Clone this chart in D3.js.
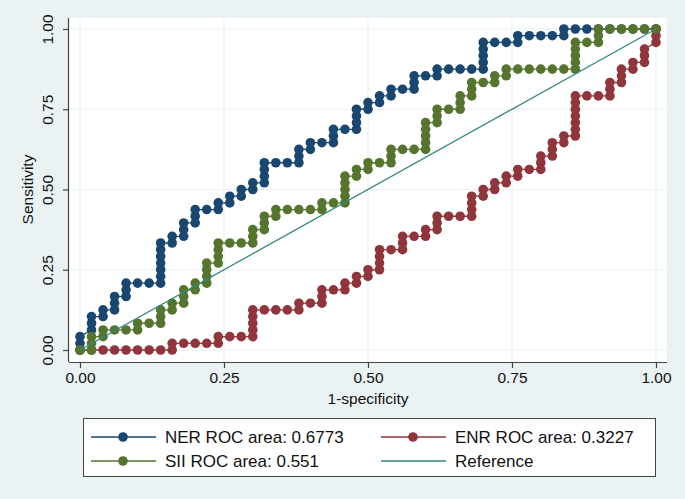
<!DOCTYPE html>
<html><head><meta charset="utf-8">
<script src="https://cdn.jsdelivr.net/npm/d3@7"></script>
<style>html,body{margin:0;padding:0;background:#eaf2f3;} svg{display:block;}</style>
</head><body><svg id="c" width="685" height="499"></svg>
<script>
// ---- data (counts of false positives / true positives at each cut-off) ----
const nNeg = 50, nPos = 48;
const xTickVals = [0, 0.25, 0.5, 0.75, 1];
const yTickVals = [0, 0.25, 0.5, 0.75, 1];
const tickLabels = ["0.00", "0.25", "0.50", "0.75", "1.00"];
const xTitle = "1-specificity";
const yTitle = "Sensitivity";

const nerFp = [0,0,0, 1,1,1, 2,2, 3,3,3, 4,4,4, 5, 6, 7,7,7,7,7,7,7, 8,8, 9,9,9, 10,10,10, 11, 12,12, 13,13, 14,14, 15,15, 16,16,16,16, 17, 18, 19,19,19, 20,20, 21, 22,22,22, 23, 24,24,24,24, 25,25, 26,26, 27,27, 28, 29,29,29, 30, 31,31, 32, 33, 34, 35,35,35,35,35, 36, 37, 38,38, 39, 40, 41, 42,42, 43, 44, 45, 46, 47, 48, 49, 50];
const nerTp = [0,1,2, 3,4,5, 5,6, 6,7,8, 8,9,10, 10, 10, 10,11,12,13,14,15,16, 16,17, 17,18,19, 19,20,21, 21, 21,22, 22,23, 23,24, 24,25, 25,26,27,28, 28, 28, 28,29,30, 30,31, 31, 31,32,33, 33, 33,34,35,36, 36,37, 37,38, 38,39, 39, 39,40,41, 41, 41,42, 42, 42, 42, 42,43,44,45,46, 46, 46, 46,47, 47, 47, 47, 47,48, 48, 48, 48, 48, 48, 48, 48, 48];

const enrFp = [0,1,2,3,4,5,6,7, 8,8, 9,10,11, 12,12, 13,14, 15,15,15,15,15, 16,17,18, 19,19, 20, 21,21,21, 22, 23,23, 24,24, 25,25, 26,26,26,26, 27, 28,28,28, 29, 30,30, 31,31,31, 32,33, 34,34,34,34, 35,35, 36,36, 37,37, 38,38, 39, 40,40,40, 41,41,41, 42,42, 43,43,43,43,43,43,43, 44,45, 46,46,46, 47,47,47, 48,48, 49,49,49, 50,50,50];
const enrTp = [0,0,0,0,0,0,0,0, 0,1, 1,1,1, 1,2, 2,2, 2,3,4,5,6, 6,6,6, 6,7, 7, 7,8,9, 9, 9,10, 10,11, 11,12, 12,13,14,15, 15, 15,16,17, 17, 17,18, 18,19,20, 20,20, 20,21,22,23, 23,24, 24,25, 25,26, 26,27, 27, 27,28,29, 29,30,31, 31,32, 32,33,34,35,36,37,38, 38,38, 38,39,40, 40,41,42, 42,43, 43,44,45, 46,47,48];

const siiFp = [0, 1,1,1, 2,2, 3, 4, 5,5, 6, 7,7,7, 8,8, 9,9,9, 10,10, 11,11,11,11, 12,12,12,12, 13, 14, 15,15,15, 16,16,16, 17,17, 18, 19, 20, 21,21, 22, 23,23,23,23,23, 24,24, 25,25, 26, 27,27,27, 28, 29, 30,30,30,30,30, 31,31,31, 32, 33,33,33, 34,34,34, 35, 36,36, 37,37, 38, 39, 40, 41, 42, 43,43,43,43,43, 44, 45,45,45, 46, 47, 48, 49, 50];
const siiTp = [0, 0,1,2, 2,3, 3, 3, 3,4, 4, 4,5,6, 6,7, 7,8,9, 9,10, 10,11,12,13, 13,14,15,16, 16, 16, 16,17,18, 18,19,20, 20,21, 21, 21, 21, 21,22, 22, 22,23,24,25,26, 26,27, 27,28, 28, 28,29,30, 30, 30, 30,31,32,33,34, 34,35,36, 36, 36,37,38, 38,39,40, 40, 40,41, 41,42, 42, 42, 42, 42, 42, 42,43,44,45,46, 46, 46,47,48, 48, 48, 48, 48, 48];

const refX = [0, 1];
const refY = [0, 1];

const seriesLabels = ["NER ROC area: 0.6773", "ENR ROC area: 0.3227", "SII ROC area: 0.551", "Reference"];
const seriesColors = ["#1a476f", "#90353b", "#55752f", "#33897f"];

// ---- drawing ----
const svg = d3.select("#c");
const W = 685, H = 499;
const FONT = "'Liberation Sans', Arial, Helvetica, sans-serif";
const TICK_FS = 15.5, TITLE_FS = 15.5, LEG_FS = 17;
svg.append("rect").attr("width", W).attr("height", H).attr("fill", "#eaf2f3");

const x = d3.scaleLinear().domain([0, 1]).range([80, 656]);
const y = d3.scaleLinear().domain([0, 1]).range([350, 29]);
const plotL = 69, plotR = 667, plotT = 18, plotB = 362;

svg.append("rect").attr("x", plotL).attr("y", plotT).attr("width", plotR - plotL).attr("height", plotB - plotT).attr("fill", "#ffffff");

// grid
const grid = svg.append("g").attr("stroke", "#eaf2f3").attr("stroke-width", 1.2);
xTickVals.forEach(v => grid.append("line").attr("x1", x(v)).attr("x2", x(v)).attr("y1", plotT).attr("y2", plotB));
yTickVals.forEach(v => grid.append("line").attr("y1", y(v)).attr("y2", y(v)).attr("x1", plotL).attr("x2", plotR));

// axes
const xAxis = d3.axisBottom(x).tickValues(xTickVals).tickFormat((d, i) => tickLabels[i]).tickSize(6).tickPadding(4);
const gx = svg.append("g").attr("transform", `translate(0,${plotB})`).call(xAxis);
gx.select(".domain").remove();
gx.append("line").attr("x1", plotL).attr("x2", plotR).attr("y1", 0.5).attr("y2", 0.5).attr("stroke", "#444").attr("stroke-width", 1.2);
gx.selectAll(".tick line").attr("stroke", "#444").attr("stroke-width", 1.2);
gx.selectAll(".tick text").attr("font-family", FONT).attr("font-size", TICK_FS).attr("fill", "#111");

const yAxis = d3.axisLeft(y).tickValues(yTickVals).tickFormat((d, i) => tickLabels[i]).tickSize(6).tickPadding(5);
const gy = svg.append("g").attr("transform", `translate(${plotL},0)`).call(yAxis);
gy.select(".domain").remove();
gy.append("line").attr("x1", -0.5).attr("x2", -0.5).attr("y1", plotT).attr("y2", plotB).attr("stroke", "#444").attr("stroke-width", 1.2);
gy.selectAll(".tick line").attr("stroke", "#444").attr("stroke-width", 1.2);
gy.selectAll(".tick text")
  .attr("font-family", FONT).attr("font-size", TICK_FS).attr("fill", "#111")
  .attr("text-anchor", "middle").attr("dy", null).attr("x", null)
  .attr("transform", "translate(-16,0) rotate(-90)");

svg.append("text").attr("x", x(0.5)).attr("y", 404).attr("text-anchor", "middle")
  .attr("font-family", FONT).attr("font-size", TITLE_FS).attr("fill", "#111").text(xTitle);
svg.append("text").attr("transform", `translate(33,${y(0.5)}) rotate(-90)`).attr("text-anchor", "middle")
  .attr("font-family", FONT).attr("font-size", TITLE_FS).attr("fill", "#111").text(yTitle);

// series
function drawSeries(fp, tp, color) {
  const pts = fp.map((f, i) => [x(f / nNeg), y(tp[i] / nPos)]);
  const g = svg.append("g");
  g.append("path").attr("d", d3.line()(pts)).attr("fill", "none").attr("stroke", color).attr("stroke-width", 1.3);
  g.selectAll("circle").data(pts).enter().append("circle")
    .attr("cx", d => d[0]).attr("cy", d => d[1]).attr("r", 4.8).attr("fill", color);
}
drawSeries(nerFp, nerTp, seriesColors[0]);
drawSeries(enrFp, enrTp, seriesColors[1]);
drawSeries(siiFp, siiTp, seriesColors[2]);
svg.append("path").attr("d", d3.line()(refX.map((v, i) => [x(v), y(refY[i])])))
  .attr("fill", "none").attr("stroke", seriesColors[3]).attr("stroke-width", 1.3);

// legend
const lg = svg.append("g");
lg.append("rect").attr("x", 83.5).attr("y", 418.5).attr("width", 572).attr("height", 58)
  .attr("fill", "#ffffff").attr("stroke", "#444").attr("stroke-width", 1);
const legendItems = [
  {label: seriesLabels[0], color: seriesColors[0], dot: true,  col: 0, row: 0},
  {label: seriesLabels[1], color: seriesColors[1], dot: true,  col: 1, row: 0},
  {label: seriesLabels[2], color: seriesColors[2], dot: true,  col: 0, row: 1},
  {label: seriesLabels[3], color: seriesColors[3], dot: false, col: 1, row: 1}
];
const colX = [91, 381], rowY = [437, 461];
legendItems.forEach(it => {
  const x0 = colX[it.col], yy = rowY[it.row];
  lg.append("line").attr("x1", x0).attr("x2", x0 + 65).attr("y1", yy).attr("y2", yy)
    .attr("stroke", it.color).attr("stroke-width", 1.3);
  if (it.dot) lg.append("circle").attr("cx", x0 + 32).attr("cy", yy).attr("r", 4.8).attr("fill", it.color);
  lg.append("text").attr("x", x0 + 74).attr("y", yy + 6).attr("font-family", FONT).attr("font-size", LEG_FS)
    .attr("fill", "#111").text(it.label);
});
</script>
</body></html>
